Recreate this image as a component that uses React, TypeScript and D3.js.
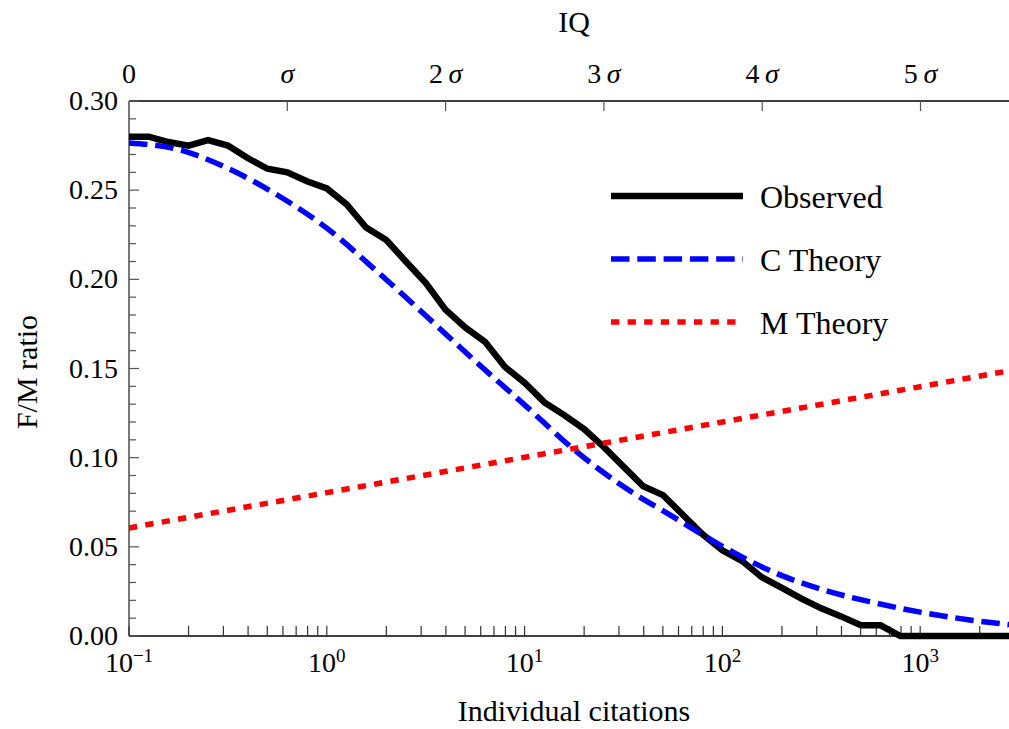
import React, { useEffect } from 'react';
import * as d3 from 'd3';

// Observed F/M ratio, binned by individual citations (0.1-decade bins)
const obsCitations = [
  0.1, 0.126, 0.158, 0.2, 0.251, 0.316, 0.398, 0.501, 0.631, 0.794,
  1, 1.26, 1.58, 2, 2.51, 3.16, 3.98, 5.01, 6.31, 7.94,
  10, 12.6, 15.8, 20, 25.1, 31.6, 39.8, 50.1, 63.1, 79.4,
  100, 126, 158, 200, 251, 316, 398, 501, 631, 794,
  1000, 1260, 1580, 2000, 2510, 3160,
];
const obsRatio = [
  0.280, 0.280, 0.277, 0.275, 0.278, 0.275, 0.268, 0.262, 0.260, 0.255,
  0.251, 0.242, 0.229, 0.222, 0.210, 0.198, 0.183, 0.173, 0.165, 0.151,
  0.142, 0.131, 0.124, 0.116, 0.106, 0.095, 0.084, 0.079, 0.068, 0.057,
  0.048, 0.042, 0.033, 0.027, 0.021, 0.0155, 0.011, 0.006, 0.006, 0,
  0, 0, 0, 0, 0, 0,
];

// C Theory curve
const cCitations = [
  0.1, 0.178, 0.316, 0.562, 1, 1.78, 3.16, 5.62, 10, 17.8,
  31.6, 56.2, 100, 178, 316, 562, 1000, 1780, 3160,
];
const cRatio = [
  0.2765, 0.2728, 0.2622, 0.2473, 0.2287, 0.2048, 0.1797, 0.1542, 0.1296, 0.1045,
  0.0838, 0.0669, 0.0503, 0.0362, 0.0262, 0.0191, 0.0134, 0.0090, 0.0058,
];

// M Theory line
const mCitations = [0.1, 1, 10, 100, 1000, 3160];
const mRatio = [0.0606, 0.0804, 0.1002, 0.12, 0.1398, 0.1497];

const yTicks = [0, 0.05, 0.1, 0.15, 0.2, 0.25, 0.3];
const decadeExponents = [-1, 0, 1, 2, 3];
const sigmaTicks = [0, 1, 2, 3, 4, 5];

const legendItems = [
  { label: 'Observed', color: '#000000', width: 6.5, dash: '' },
  { label: 'C Theory', color: '#0000ff', width: 5.5, dash: '18.5 7.8' },
  { label: 'M Theory', color: '#ff0000', width: 5.5, dash: '8.3 8.3' },
];

const W = 1009;
const H = 729;
const FONT = '"Liberation Serif", "Times New Roman", serif';

export default function App() {
  useEffect(() => {
    document.body.style.margin = '0';
  }, []);

  const left = 129, right = 1009, top = 101, bottom = 636;

  const x = d3.scaleLog().domain([0.1, 2812]).range([left, right]);
  const xIQ = d3.scaleLinear().domain([0, 5.559]).range([left, right]);
  const y = d3.scaleLinear().domain([0, 0.3]).range([bottom, top]);

  const line = d3.line<[number, number]>()
    .x(d => x(d[0]))
    .y(d => y(d[1]));
  const smooth = d3.line<[number, number]>()
    .x(d => x(d[0]))
    .y(d => y(d[1]))
    .curve(d3.curveMonotoneX);

  const obs = obsCitations.map((c, i) => [c, obsRatio[i]] as [number, number]);
  const cth = cCitations.map((c, i) => [c, cRatio[i]] as [number, number]);
  const mth = mCitations.map((c, i) => [c, mRatio[i]] as [number, number]);

  // minor ticks: 1..9 of every decade within domain
  const xTicks: number[] = [];
  decadeExponents.forEach(e => {
    for (let m = 1; m <= 9; m++) {
      const v = m * Math.pow(10, e);
      if (v <= 2812) xTicks.push(v);
    }
  });
  const yMinor = d3.range(0, 31).map(i => i / 100);

  return (
    <svg width={W} height={H} style={{ display: 'block', background: '#fff' }} fontFamily={FONT}>
      <defs>
        <clipPath id="plotClip">
          <rect x={left} y={top - 20} width={right - left} height={bottom - top + 40} />
        </clipPath>
      </defs>

      {/* axes lines */}
      <line x1={left} x2={right} y1={top} y2={top} stroke="#000" strokeWidth={1.5} />
      <line x1={left} x2={right} y1={bottom} y2={bottom} stroke="#000" strokeWidth={1.5} />
      <line x1={left} x2={left} y1={top} y2={bottom} stroke="#777" strokeWidth={2} />

      {/* left ticks */}
      {yMinor.map(v => {
        const major = Math.abs(v * 20 - Math.round(v * 20)) < 1e-6;
        return (
          <line key={'ym' + v} x1={left} x2={left + (major ? 10 : 7)} y1={y(v)} y2={y(v)}
            stroke="#555" strokeWidth={1.2} />
        );
      })}
      {yTicks.map(v => (
        <text key={'yt' + v} x={left - 11} y={y(v) + 9} textAnchor="end" fontSize={28} fill="#000">
          {v.toFixed(2)}
        </text>
      ))}

      {/* bottom ticks */}
      {xTicks.map(v => (
        <line key={'xt' + v} x1={x(v)} x2={x(v)} y1={bottom} y2={bottom - 10} stroke="#333" strokeWidth={1.2} />
      ))}
      {decadeExponents.map(e => (
        <text key={'xl' + e} x={x(Math.pow(10, e))} y={672} textAnchor="middle" fontSize={28} fill="#000">
          10
          <tspan fontSize={19} dy={-10}>{e < 0 ? '\u2212' + Math.abs(e) : String(e)}</tspan>
        </text>
      ))}

      {/* top IQ ticks */}
      {sigmaTicks.map(s => (
        <g key={'st' + s}>
          {s > 0 && (
            <line x1={xIQ(s)} x2={xIQ(s)} y1={top} y2={top + 10} stroke="#555" strokeWidth={1.2} />
          )}
          <text x={xIQ(s)} y={83} textAnchor="middle" fontSize={28} fill="#000">
            {s === 0 ? '0' : s === 1 ? '' : s + '\u2009'}
            {s > 0 && <tspan fontStyle="italic">σ</tspan>}
          </text>
        </g>
      ))}

      {/* axis titles */}
      <text x={574} y={32} textAnchor="middle" fontSize={30}>IQ</text>
      <text x={574} y={721} textAnchor="middle" fontSize={30}>Individual citations</text>
      <text transform="translate(37,372) rotate(-90)" textAnchor="middle" fontSize={30}>F/M ratio</text>

      {/* series */}
      <g clipPath="url(#plotClip)">
        <path d={line(obs) || ''} fill="none" stroke="#000" strokeWidth={6.5} strokeLinejoin="miter" />
        <path d={smooth(cth) || ''} fill="none" stroke="#0000ff" strokeWidth={5.5} strokeDasharray="18.5 7.8" />
        <path d={line(mth) || ''} fill="none" stroke="#ff0000" strokeWidth={5.5} strokeDasharray="8.3 8.3" />
      </g>

      {/* legend */}
      {legendItems.map((d, i) => {
        const ly = 196 + i * 63;
        return (
          <g key={d.label}>
            <line x1={611} x2={743} y1={ly} y2={ly} stroke={d.color} strokeWidth={d.width}
              strokeDasharray={d.dash || undefined} />
            <text x={760} y={ly + 11.5} fontSize={32} fill="#000">{d.label}</text>
          </g>
        );
      })}
    </svg>
  );
}
